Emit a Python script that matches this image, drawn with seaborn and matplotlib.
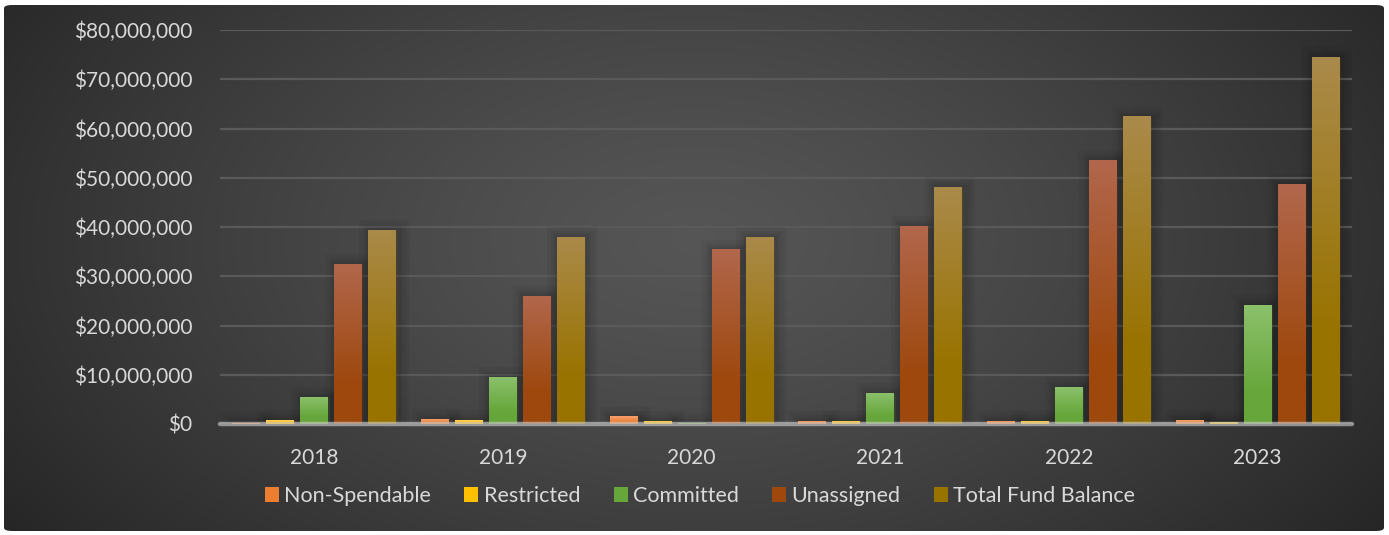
import numpy as np
import pandas as pd
import matplotlib
matplotlib.use("Agg")
import matplotlib.pyplot as plt
import matplotlib.patheffects as pe
from matplotlib.patches import FancyBboxPatch, Patch
from matplotlib.colors import to_rgb
from matplotlib.ticker import FuncFormatter, MultipleLocator
import seaborn as sns

# ---- data (dollars) ----
years = ["2018", "2019", "2020", "2021", "2022", "2023"]
non_spendable = [300_000, 1_000_000, 1_600_000, 650_000, 650_000, 800_000]
restricted = [800_000, 800_000, 650_000, 650_000, 650_000, 450_000]
committed = [5_500_000, 9_600_000, 250_000, 6_300_000, 7_500_000, 24_200_000]
unassigned = [32_500_000, 26_000_000, 35_500_000, 40_200_000, 53_600_000, 48_700_000]
total_fund_balance = [39_400_000, 38_000_000, 38_000_000, 48_100_000, 62_500_000, 74_500_000]

series_names = ["Non-Spendable", "Restricted", "Committed", "Unassigned", "Total Fund Balance"]
series_values = [non_spendable, restricted, committed, unassigned, total_fund_balance]

base_colors = ["#ED7D31", "#FFC000", "#66A63A", "#9E480E", "#997300"]
top_colors = ["#F6A26E", "#FFD25A", "#8CC16C", "#B2674C", "#AA8A4A"]

df = pd.DataFrame(
    [(y, name, v) for name, vals in zip(series_names, series_values) for y, v in zip(years, vals)],
    columns=["Year", "Fund", "Value"],
)

sns.set_theme(style="dark")
plt.rcParams["font.family"] = ["Lato", "DejaVu Sans"]

fig = plt.figure(figsize=(13.89, 5.35), dpi=100, facecolor="white")

# ---- rounded dark panel with radial shading ----
bg = fig.add_axes([0, 0, 1, 1], zorder=-10)
bg.set_axis_off()
bg.set_xlim(0, 1)
bg.set_ylim(0, 1)
W, H = 1389, 535
xx, yy = np.meshgrid(np.linspace(0, 1, W), np.linspace(1, 0, H))
r = np.sqrt(((xx - 0.50) / 0.62) ** 2 + ((yy - 0.55) / 0.95) ** 2)
t = np.clip(r, 0, 1) ** 1.3
inner = np.array([0.335, 0.335, 0.335])
outer = np.array([0.145, 0.145, 0.145])
img = inner[None, None, :] * (1 - t[..., None]) + outer[None, None, :] * t[..., None]
panel = FancyBboxPatch((4 / W, 4 / H), 1 - 9 / W, 1 - 9 / H,
                       boxstyle="round,pad=0,rounding_size=0.006",
                       transform=bg.transAxes, facecolor="none", edgecolor="none")
bg.add_patch(panel)
im = bg.imshow(img, extent=(0, 1, 0, 1), aspect="auto", zorder=0)
im.set_clip_path(panel)

# ---- main axes ----
ax = fig.add_axes([220 / W, 111 / H, 1132 / W, 394 / H])
ax.set_facecolor("none")

sns.barplot(data=df, x="Year", y="Value", hue="Fund", hue_order=series_names,
            palette=base_colors, width=0.9, gap=0.18, ax=ax, legend=False,
            saturation=1, zorder=3)

ax.set_xlim(-0.5, len(years) - 0.5)
ax.set_ylim(0, 80_000_000)
ax.yaxis.set_major_locator(MultipleLocator(10_000_000))
ax.yaxis.set_major_formatter(FuncFormatter(lambda v, p: f"${v:,.0f}"))
ax.grid(axis="y", color="#5a5a5a", linewidth=1.6, zorder=0)
ax.grid(axis="x", visible=False)
ax.set_axisbelow(True)
for s in ax.spines.values():
    s.set_visible(False)
ax.set_xlabel("")
ax.set_ylabel("")
ax.tick_params(axis="y", length=0, pad=20, labelsize=15, labelcolor="#d9d9d9")
ax.tick_params(axis="x", length=0, pad=17, labelsize=15, labelcolor="#d9d9d9")

# ---- gradient fill and soft shadow on each bar ----
shadow = [pe.Stroke(linewidth=w, foreground="black", alpha=0.045, offset=(1, -1))
          for w in (16, 11, 7, 4)]
for i, container in enumerate(ax.containers):
    c_top = np.array(to_rgb(top_colors[i]))
    c_bot = np.array(to_rgb(base_colors[i]))
    s = np.linspace(1, 0, 64)
    f = np.clip((s - 0.25) / 0.75, 0, 1)[:, None]
    grad = (c_top * f + c_bot * (1 - f))[:, None, :]
    for bar in container:
        bar.set_path_effects(shadow + [pe.Normal()])
        bar.set_edgecolor("none")
        x0, y0 = bar.get_x(), bar.get_y()
        w, h = bar.get_width(), bar.get_height()
        g = ax.imshow(grad, extent=(x0, x0 + w, y0, y0 + h), aspect="auto",
                      zorder=4, interpolation="bilinear")
        g.set_clip_path(bar)
ax.set_xlim(-0.5, len(years) - 0.5)
ax.set_ylim(0, 80_000_000)

# baseline
ax.axhline(0, color="#c8c8c8", alpha=0.65, linewidth=3.2, zorder=6, clip_on=False)

# ---- legend ----
handles = [Patch(facecolor=c, edgecolor="none") for c in base_colors]
fig.legend(handles, series_names, loc="center", bbox_to_anchor=(0.504, 0.073),
           ncol=5, frameon=False, fontsize=15.5, labelcolor="#d9d9d9",
           handlelength=0.65, handleheight=0.65, handletextpad=0.25, columnspacing=1.55)

fig.savefig("out.png", dpi=100, facecolor="white")
